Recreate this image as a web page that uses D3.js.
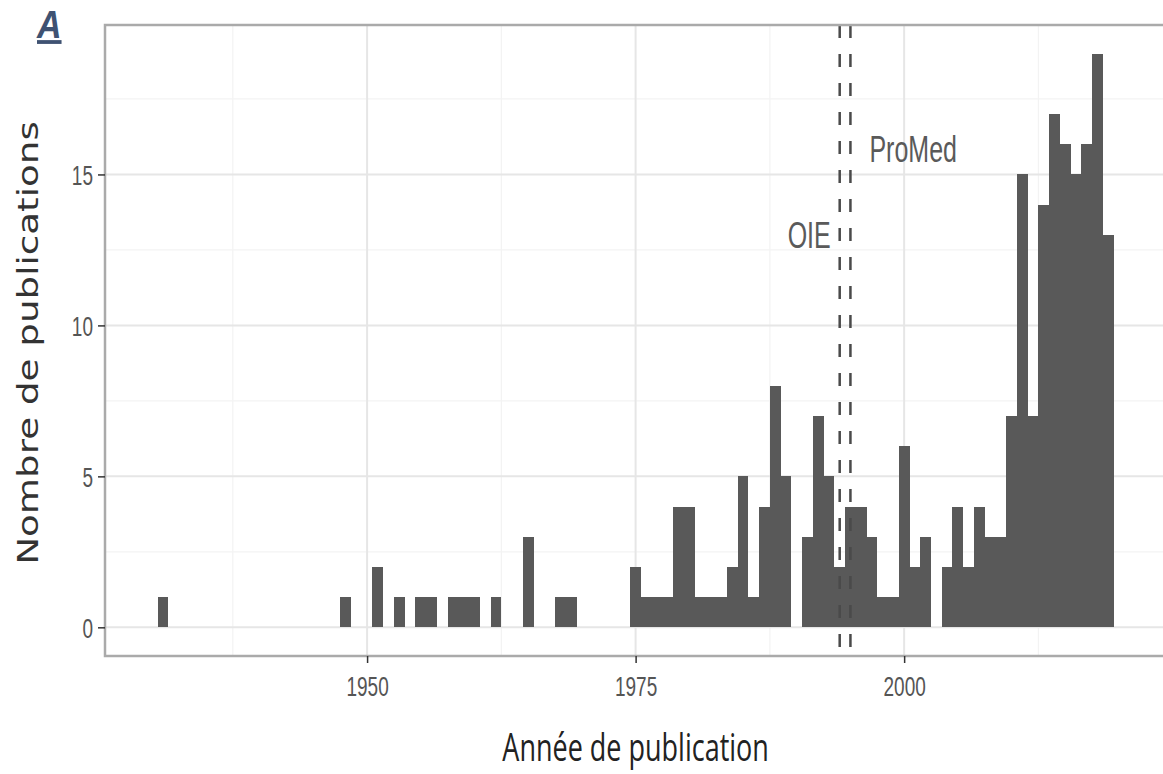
<!DOCTYPE html>
<html lang="fr">
<head>
<meta charset="UTF-8">
<title>Nombre de publications</title>
<script src="https://d3js.org/d3.v7.min.js"></script>
<style>
  body { margin: 0; background: #fff; }
  text { font-family: "Liberation Sans", Arial, sans-serif; }
</style>
</head>
<body>
<div id="graphe"></div>
<script>
// ---------- donnees ----------
var annees  = [1931, 1948, 1951, 1953, 1955, 1956, 1958, 1959, 1960, 1962, 1965, 1968, 1969,
               1975, 1976, 1977, 1978, 1979, 1980, 1981, 1982, 1983, 1984, 1985, 1986, 1987, 1988, 1989,
               1991, 1992, 1993, 1994, 1995, 1996, 1997, 1998, 1999,
               2000, 2001, 2002, 2004, 2005, 2006, 2007, 2008, 2009,
               2010, 2011, 2012, 2013, 2014, 2015, 2016, 2017, 2018, 2019];
var nombres = [1, 1, 2, 1, 1, 1, 1, 1, 1, 1, 3, 1, 1,
               2, 1, 1, 1, 4, 4, 1, 1, 1, 2, 5, 1, 4, 8, 5,
               3, 7, 5, 2, 4, 4, 3, 1, 1,
               6, 2, 3, 2, 4, 2, 4, 3, 3,
               7, 15, 7, 14, 17, 16, 15, 16, 19, 13];

var ticksX = [1950, 1975, 2000];
var ticksY = [0, 5, 10, 15];
var mineursX = [1937.5, 1962.5, 1987.5, 2012.5];
var mineursY = [2.5, 7.5, 12.5, 17.5];

// lignes verticales (OIE, ProMed)
var evenements = ["OIE", "ProMed"];
var anneesEvt  = [1994, 1995];
var hauteurEvt = [12.55, 15.4];

// ---------- dessin ----------
var W = 1163, H = 774;
var etire = 1.5; // le texte de la figure est etire verticalement

var svg = d3.select("#graphe").append("svg").attr("width", W).attr("height", H);

var x = d3.scaleLinear().domain([1925.6, 2024.1]).range([105, 1163]);
var y = d3.scaleLinear().domain([-0.95, 19.95]).range([656, 25]);

// grille
var grille = svg.append("g");
grille.selectAll(".mx").data(mineursX).enter().append("line")
  .attr("x1", d => x(d)).attr("x2", d => x(d)).attr("y1", 25).attr("y2", 656)
  .attr("stroke", "#f3f3f3").attr("stroke-width", 1.2);
grille.selectAll(".my").data(mineursY).enter().append("line")
  .attr("y1", d => y(d)).attr("y2", d => y(d)).attr("x1", 105).attr("x2", W)
  .attr("stroke", "#f3f3f3").attr("stroke-width", 1.2);
grille.selectAll(".gx").data(ticksX).enter().append("line")
  .attr("x1", d => x(d)).attr("x2", d => x(d)).attr("y1", 25).attr("y2", 656)
  .attr("stroke", "#e6e6e6").attr("stroke-width", 2);
grille.selectAll(".gy").data(ticksY).enter().append("line")
  .attr("y1", d => y(d)).attr("y2", d => y(d)).attr("x1", 105).attr("x2", W)
  .attr("stroke", "#e6e6e6").attr("stroke-width", 2);

// barres de l'histogramme
svg.append("g").selectAll("rect").data(annees).enter().append("rect")
  .attr("x", d => x(d - 0.5))
  .attr("width", d => x(d + 0.5) - x(d - 0.5))
  .attr("y", (d, i) => y(nombres[i]))
  .attr("height", (d, i) => y(0) - y(nombres[i]))
  .attr("fill", "#595959")
  .attr("shape-rendering", "crispEdges");

// lignes en pointilles
svg.append("g").selectAll("line").data(anneesEvt).enter().append("line")
  .attr("x1", d => x(d)).attr("x2", d => x(d)).attr("y1", 25).attr("y2", 656)
  .attr("stroke", "#4a4a4a").attr("stroke-width", 2.5)
  .attr("stroke-dasharray", "13,16");

// etiquettes OIE / ProMed
svg.append("g").selectAll("text").data(evenements).enter().append("text")
  .attr("transform", (d, i) => {
    var px = i == 0 ? x(anneesEvt[i]) - 9 : x(anneesEvt[i]) + 19;
    return "translate(" + px + "," + y(hauteurEvt[i]) + ") scale(1," + etire + ")";
  })
  .attr("text-anchor", (d, i) => i == 0 ? "end" : "start")
  .attr("font-size", 25).attr("fill", "#5a5a5a")
  .text(d => d);

// cadre du panneau
svg.append("rect").attr("x", 105).attr("y", 25).attr("width", W - 105 + 5).attr("height", 631)
  .attr("fill", "none").attr("stroke", "#aaaaaa").attr("stroke-width", 2.5);

// axes
var axeX = svg.append("g").attr("transform", "translate(0,656)")
  .call(d3.axisBottom(x).tickValues(ticksX).tickSize(7).tickFormat(d3.format("d")));
var axeY = svg.append("g").attr("transform", "translate(105,0)")
  .call(d3.axisLeft(y).tickValues(ticksY).tickSize(7));
[axeX, axeY].forEach(a => {
  a.select(".domain").remove();
  a.selectAll(".tick line").attr("stroke", "#333").attr("stroke-width", 1.5);
  a.selectAll(".tick text").attr("fill", "#555").attr("font-size", 19)
    .attr("font-family", "'Liberation Sans', Arial, sans-serif");
});
axeX.selectAll(".tick text").attr("dy", null).attr("y", 0)
  .attr("transform", "translate(0,40) scale(1," + etire + ")");
axeY.selectAll(".tick text").attr("dy", null).attr("x", 0)
  .attr("transform", "translate(-12,10) scale(1," + etire + ")");

// titres des axes
svg.append("text")
  .attr("transform", "translate(" + x(1975) + ",761) scale(1,1.45)")
  .attr("text-anchor", "middle").attr("font-size", 27).attr("fill", "#222")
  .style("font-family", "'Open Sans', sans-serif")
  .text("Année de publication");
svg.append("text")
  .attr("transform", "translate(38,343) scale(1,1.33) rotate(-90)")
  .attr("text-anchor", "middle").attr("font-size", 28).attr("fill", "#333")
  .style("font-family", "'DejaVu Sans', sans-serif")
  .text("Nombre de publications");

// lettre du panneau
svg.append("text")
  .attr("transform", "translate(37,38) scale(1,1.12)")
  .attr("font-size", 34).attr("font-weight", "bold").attr("font-style", "italic")
  .attr("text-decoration", "underline").attr("fill", "#3f5272")
  .text("A");
</script>
</body>
</html>
